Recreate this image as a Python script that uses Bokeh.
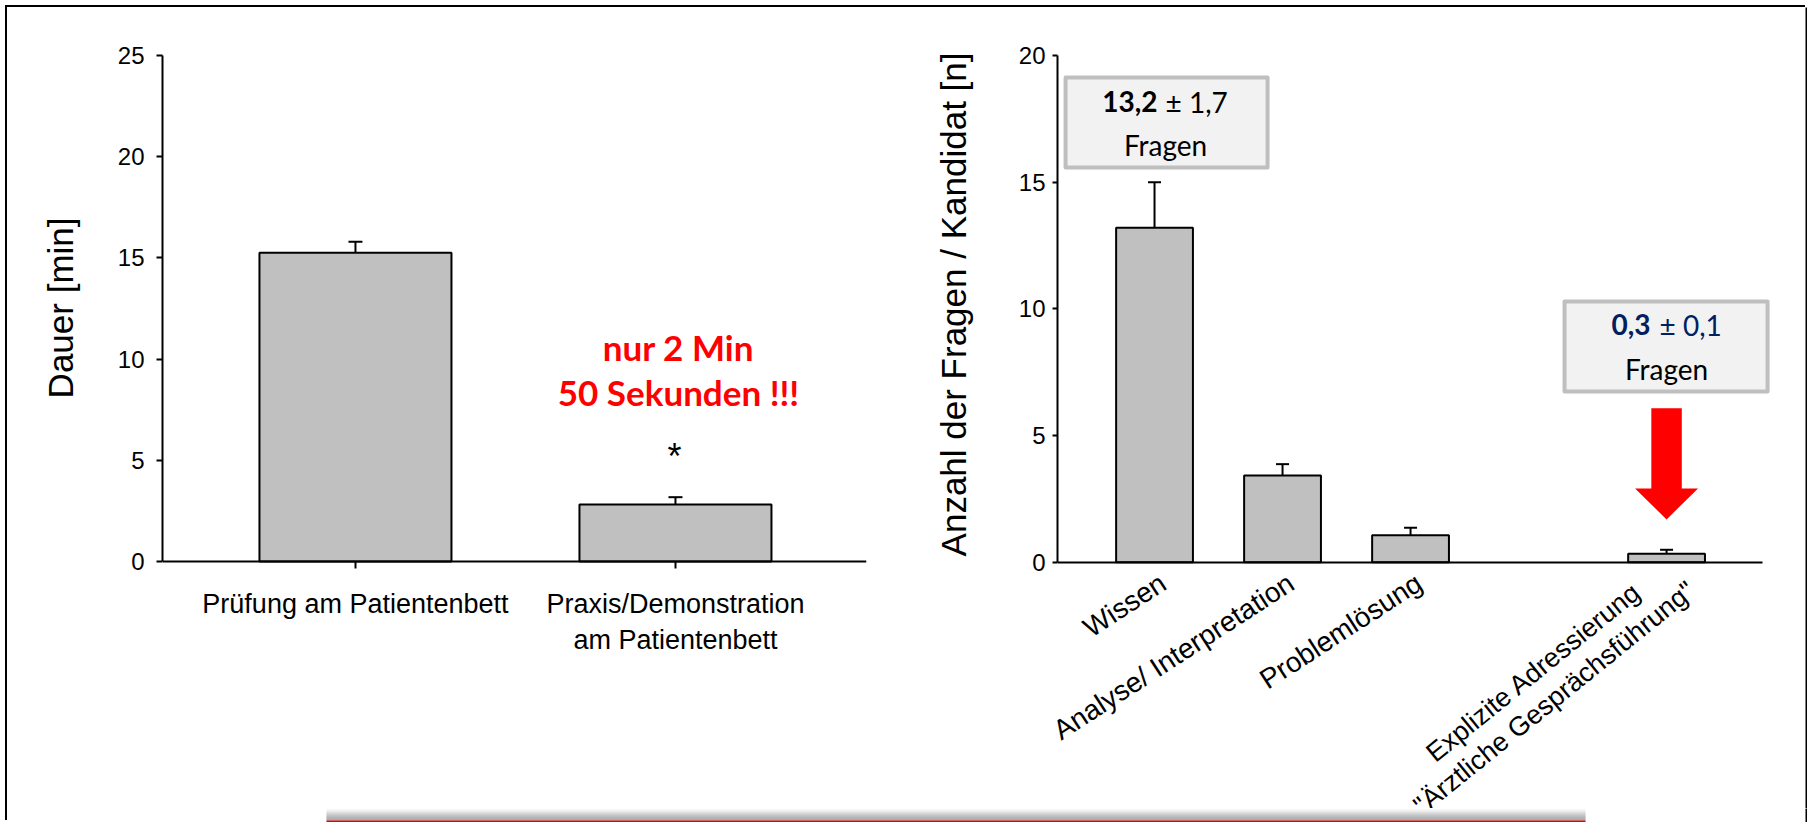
import math
from bokeh.plotting import figure
from bokeh.models import Range1d, FixedTicker, ColumnDataSource, Whisker, TeeHead, Title
from bokeh.layouts import row, column
from bokeh.embed import file_html
from bokeh.resources import INLINE
from bokeh.core.properties import value

# ---------------- data ----------------
left_categories = ["Prüfung am Patientenbett", "Praxis/Demonstration\nam Patientenbett"]
left_means = [15.25, 2.82]
left_sems = [0.55, 0.36]
left_ticks = [0, 5, 10, 15, 20, 25]
left_ylabel = "Dauer [min]"
left_note = ["nur 2 Min", "50 Sekunden !!!"]

right_categories = ["Wissen", "Analyse/ Interpretation", "Problemlösung",
                    "Explizite Adressierung\n\"Ärztliche Gesprächsführung\""]
right_means = [13.2, 3.42, 1.06, 0.33]
right_sems = [1.8, 0.45, 0.30, 0.16]
right_ticks = [0, 5, 10, 15, 20]
right_ylabel = "Anzahl der Fragen / Kandidat [n]"
right_slots = [0, 1, 2, 4]          # category slots (gap before last one)
box1_text = ["13,2", "± 1,7", "Fragen"]
box2_text = ["0,3", "± 0,1", "Fragen"]

AX = "Liberation Sans"
CAL = "Lato"
BAR_FILL = "#C0C0C0"

def style_common(p):
    p.title.visible = False
    p.xgrid.grid_line_color = None
    p.ygrid.grid_line_color = None
    p.outline_line_color = None
    p.background_fill_color = "white"
    p.border_fill_color = "white"

def style_yaxis(p, ticks, label, tick_out, standoff, title_standoff, title_offset):
    ax = p.yaxis[0]
    ax.ticker = FixedTicker(ticks=ticks)
    ax.bounds = (ticks[0], ticks[-1])
    ax.minor_tick_line_color = None
    ax.major_tick_in = 0
    ax.major_tick_out = tick_out
    ax.major_tick_line_width = 2
    ax.axis_line_width = 2
    ax.axis_line_color = "black"
    ax.major_tick_line_color = "black"
    ax.major_label_text_font = AX
    ax.major_label_text_font_size = "24px"
    ax.major_label_text_color = "black"
    ax.major_label_standoff = standoff
    p.add_layout(Title(text=label, align="right", offset=title_offset, vertical_align="top",
                       standoff=title_standoff, text_font=AX, text_font_size="35px",
                       text_font_style="normal", text_color="black"), "left")

# ---------------- left chart ----------------
p1 = figure(width=883, height=801, x_range=Range1d(-0.603, 1.597), y_range=Range1d(-12.2, 27.372),
            output_backend="svg", toolbar_location=None,
            min_border_left=155, min_border_right=24, min_border_top=0, min_border_bottom=0)
style_common(p1)
style_yaxis(p1, left_ticks, left_ylabel, 6, 12, 66, 210)

xa = p1.xaxis[0]
xpos1 = list(range(len(left_categories)))
xa.fixed_location = 0
xa.ticker = FixedTicker(ticks=xpos1)
xa.major_label_overrides = {i: c for i, c in zip(xpos1, left_categories)}
xa.minor_tick_line_color = None
xa.major_tick_in = 0
xa.major_tick_out = 7
xa.major_tick_line_width = 2
xa.axis_line_width = 2
xa.major_label_text_font = AX
xa.major_label_text_font_size = "27px"
xa.major_label_text_color = "black"
xa.major_label_standoff = 20

src1 = ColumnDataSource(dict(x=xpos1, top=left_means,
                             upper=[m + s for m, s in zip(left_means, left_sems)]))
p1.vbar(x="x", top="top", width=0.6, source=src1, fill_color=BAR_FILL,
        line_color="black", line_width=2)
p1.add_layout(Whisker(source=src1, base="x", upper="upper", lower="top", dimension="height",
                      line_width=2, line_color="black", lower_head=None,
                      upper_head=TeeHead(size=14, line_width=2, line_color="black")))

p1.text(x=[1, 1], y=[10.59, 8.40], text=left_note, text_font=value(CAL),
        text_font_style="bold", text_font_size="35px", text_color="#FF0000",
        text_align="center", text_baseline="alphabetic", x_offset=3)
p1.text(x=[1], y=[5.21], text=["*"], text_font=value(AX), text_font_size="36px",
        text_color="black", text_align="center", text_baseline="alphabetic", x_offset=-1)

# ---------------- right chart ----------------
X2_END = 5.101
p2 = figure(width=917, height=801, x_range=Range1d(-0.758, X2_END), y_range=Range1d(-9.722, 21.895),
            output_backend="svg", toolbar_location=None,
            min_border_left=167, min_border_right=0, min_border_top=0, min_border_bottom=0)
style_common(p2)
style_yaxis(p2, right_ticks, right_ylabel, 5, 7, 82, 45)

xb = p2.xaxis[0]
xb.fixed_location = 0
xb.bounds = (-0.758, 4.75)
xb.ticker = FixedTicker(ticks=[])
xb.major_tick_line_color = None
xb.minor_tick_line_color = None
xb.axis_line_width = 2
xb.axis_line_color = "black"

# annotation boxes
p2.quad(left=[-0.695, 3.203], right=[0.883, 4.789], top=[19.135, 10.29], bottom=[15.58, 6.74],
        fill_color="#F2F2F2", line_color="#BFBFBF", line_width=4, line_join="round")

src2 = ColumnDataSource(dict(x=right_slots, top=right_means,
                             upper=[m + s for m, s in zip(right_means, right_sems)]))
p2.vbar(x="x", top="top", width=0.6, source=src2, fill_color=BAR_FILL,
        line_color="black", line_width=2)
p2.add_layout(Whisker(source=src2, base="x", upper="upper", lower="top", dimension="height",
                      line_width=2, line_color="black", lower_head=None,
                      upper_head=TeeHead(size=13, line_width=2, line_color="black")))

# rotated category labels
p2.text(x=[s + 0.067 for s in right_slots[:3]], y=[-0.71] * 3, text=right_categories[:3],
        angle=33, angle_units="deg", text_align="right", text_baseline="middle",
        text_font=value(AX), text_font_size="28px", text_color="black", level="overlay")
p2.text(x=[right_slots[3] - 0.958], y=[-4.85], text=right_categories[3:],
        angle=39, angle_units="deg", text_align="center", text_baseline="middle",
        text_line_height=1.1, text_font=value(AX), text_font_size="27px", text_color="black",
        level="overlay")

# box texts
def box_texts(xc, y1, y2, parts, color, off_b, off_r, off_f):
    p2.text(x=[xc], y=[y1], text=[parts[0]], text_font=value(CAL), text_font_style="bold",
            text_font_size="28px", text_color=color, text_align="right",
            text_baseline="alphabetic", x_offset=off_b)
    p2.text(x=[xc], y=[y1], text=[parts[1]], text_font=value(CAL),
            text_font_size="28px", text_color=color, text_align="left",
            text_baseline="alphabetic", x_offset=off_r)
    p2.text(x=[xc], y=[y2], text=[parts[2]], text_font=value(CAL),
            text_font_size="28px", text_color="black", text_align="center",
            text_baseline="alphabetic", x_offset=off_f)

box_texts(right_slots[0], 18.18, 16.47, box1_text, "black", 3, 11, 11)
box_texts(right_slots[3], 9.37, 7.62, box2_text, "#002060", -16, -7, 0)

# red arrow pointing at last bar
xc = right_slots[3]
sw, hw = 0.119, 0.246
p2.patch(x=[xc - sw, xc + sw, xc + sw, xc + hw, xc, xc - hw, xc - sw],
         y=[6.08, 6.08, 2.91, 2.91, 1.69, 2.91, 2.91],
         fill_color="#FF0000", line_color=None)

# right edge of the outer frame
p2.quad(left=[X2_END - 2.0 / 128], right=[X2_END + 1], bottom=[-20], top=[30],
        fill_color="black", line_color=None)

# ---------------- bottom strip (shadowed box edge) ----------------
p3 = figure(width=1800, height=14, x_range=Range1d(0, 1800), y_range=Range1d(0, 14),
            output_backend="svg", toolbar_location=None, min_border=0,
            x_axis_location=None, y_axis_location=None)
style_common(p3)
shades = ["#fbfbfb", "#f3f3f3", "#e9e9e9", "#dddddd", "#d0d0d0", "#c4c4c4",
          "#b8b8b8", "#adadad", "#a3a3a3", "#9b9b9b", "#959595", "#909090"]
n = len(shades)
p3.quad(left=[319] * n, right=[1578] * n, top=[14 - i for i in range(n)],
        bottom=[13 - i for i in range(n)], fill_color=shades, line_color=None)
p3.quad(left=[319], right=[1578], top=[2], bottom=[0], fill_color="#E00000", line_color=None)
p3.quad(left=[1798], right=[1801], top=[15], bottom=[-1], fill_color="black", line_color=None)

layout = column(row(p1, p2), p3,
                styles={"margin-left": "7px", "margin-top": "7px",
                        "box-shadow": "-2px -2px 0 0 #000000"})

open("out.html", "w").write(file_html(layout, INLINE))
